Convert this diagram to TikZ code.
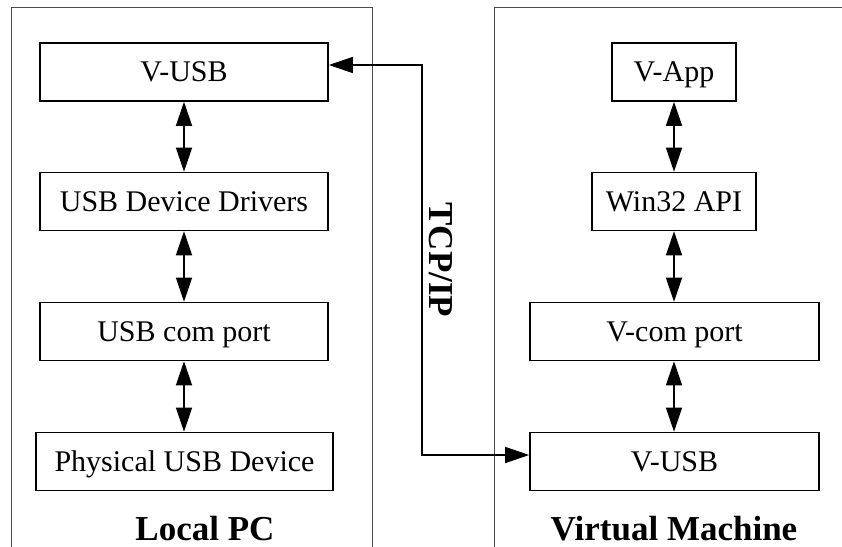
\documentclass[tikz,border=0pt]{standalone}
\usepackage{fontspec}
\setmainfont{Liberation Serif}
\usetikzlibrary{arrows.meta}
\begin{document}
\begin{tikzpicture}[x=1bp,y=-1bp,
  layerbox/.style={draw, line width=1.6bp, inner sep=0pt, minimum height=58bp,
    text height=20bp, text depth=0pt, font=\fontsize{30bp}{34bp}\selectfont},
  panel/.style={draw=black!70, line width=1bp},
  dbl/.style={line width=1.4bp, {Triangle[length=24bp,width=16bp]}-{Triangle[length=24bp,width=16bp]}},
  plabel/.style={font=\bfseries\fontsize{35bp}{40bp}\selectfont, anchor=base}]
\useasboundingbox (0,0) rectangle (842,547);
% panels
\draw[panel] (11,547) -- (11,7.5) -- (372,7.5) -- (372,547);
\draw[panel] (494,547) -- (494,7.5) -- (843,7.5);
% left column
\node[layerbox, minimum width=288bp] (lv) at (184,72) {V-USB};
\node[layerbox, minimum width=288bp] (ld) at (184,201.5) {USB Device Drivers};
\node[layerbox, minimum width=288bp] (lc) at (184,331.5) {USB com port};
\node[layerbox, minimum width=297bp] (lp) at (184.5,461.5) {Physical USB Device};
% right column
\node[layerbox, minimum width=124bp] (ra) at (674,72) {V-App};
\node[layerbox, minimum width=164bp] (rw) at (674,201.5) {Win32 API};
\node[layerbox, minimum width=289bp] (rc) at (674.5,331.5) {V-com port};
\node[layerbox, minimum width=289bp] (ru) at (674.5,461.5) {V-USB};
% labels
\node[plabel] (llab) at (205,540) {Local PC};
\node[plabel] (rlab) at (674,540) {Virtual Machine};
% vertical arrows
\draw[dbl] (lv.south -| 184,0) -- (ld.north -| 184,0);
\draw[dbl] (ld.south -| 184,0) -- (lc.north -| 184,0);
\draw[dbl] (lc.south -| 184,0) -- (lp.north -| 184,0);
\draw[dbl] (ra.south) -- (rw.north);
\draw[dbl] (rw.south) -- (rc.north -| rw.south);
\draw[dbl] (rc.south -| rw.south) -- (ru.north -| rw.south);
% TCP/IP link
\coordinate (t1) at (422,65);
\coordinate (t2) at (422,455);
\draw[dbl] (lv.east |- t1) -- (t1) -- (t2) -- (ru.west |- t2);
\node[font=\bfseries\fontsize{35bp}{40bp}\selectfont, rotate=-90] (tcp) at (441,260) {TCP/IP};
\end{tikzpicture}
\end{document}
